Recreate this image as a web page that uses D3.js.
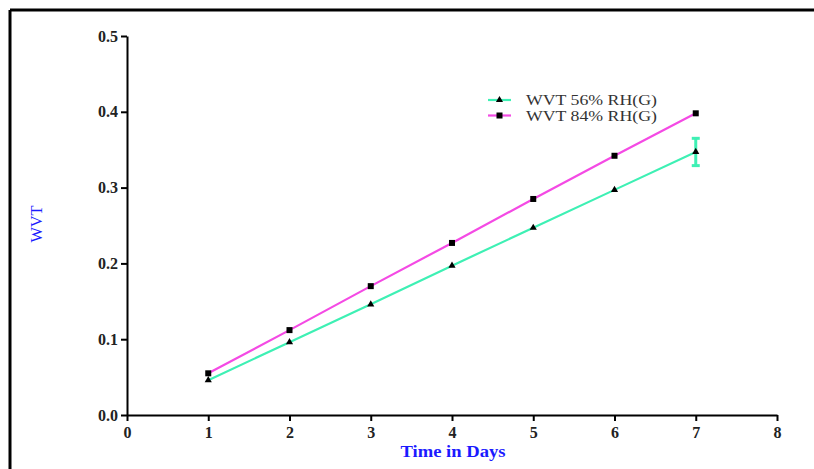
<!DOCTYPE html>
<html>
<head>
<meta charset="utf-8">
<script src="https://cdn.jsdelivr.net/npm/d3@7"></script>
<style>
  body { margin: 0; background: #fff; }
  svg { display: block; }
</style>
</head>
<body>
<svg id="chart"></svg>
<script>
const days = [1, 2, 3, 4, 5, 6, 7];
const wvt56 = [0.046, 0.096, 0.146, 0.197, 0.247, 0.297, 0.347];
const wvt84 = [0.055, 0.112, 0.170, 0.227, 0.285, 0.342, 0.398];
const err56 = [0, 0, 0, 0, 0, 0, 0.018];
const xTicks = [0, 1, 2, 3, 4, 5, 6, 7, 8];
const yTicks = [0.0, 0.1, 0.2, 0.3, 0.4, 0.5];
const seriesNames = ["WVT 56% RH(G)", "WVT 84% RH(G)"];

const width = 814, height = 469;
const margin = { top: 36, right: 36, bottom: 54, left: 127 };

const svg = d3.select("#chart").attr("width", width).attr("height", height);

// outer frame (top and left edges only)
svg.append("line").attr("x1", 10).attr("x2", width).attr("y1", 10).attr("y2", 10)
    .attr("stroke", "#000").attr("stroke-width", 3);
svg.append("line").attr("x1", 10).attr("x2", 10).attr("y1", 10).attr("y2", height)
    .attr("stroke", "#000").attr("stroke-width", 3);

const x = d3.scaleLinear().domain([0, 8]).range([margin.left, width - margin.right - 1]);
const y = d3.scaleLinear().domain([0, 0.5]).range([height - margin.bottom, margin.top]);

const font = "'Liberation Serif', 'Times New Roman', serif";

const xAxis = svg.append("g")
    .attr("transform", `translate(0,${y(0)})`)
    .call(d3.axisBottom(x).tickValues(xTicks).tickFormat(d3.format("d")).tickSize(6).tickSizeOuter(0));
const yAxis = svg.append("g")
    .attr("transform", `translate(${x(0)},0)`)
    .call(d3.axisLeft(y).tickValues(yTicks).tickFormat(d3.format(".1f")).tickSize(6).tickSizeOuter(0));

[xAxis, yAxis].forEach(g => {
  g.select(".domain").attr("stroke", "#000").attr("stroke-width", 2);
  g.selectAll(".tick line").attr("stroke", "#000").attr("stroke-width", 2);
  g.selectAll(".tick text").attr("font-family", font).attr("font-weight", "bold")
      .attr("font-size", 16).attr("fill", "#222");
});
xAxis.selectAll(".tick text").attr("y", 8).attr("dy", "0.95em");
yAxis.selectAll(".tick text").attr("x", -9);

const colors = ["#3ef0b4", "#f44ae4"];
const data = [
  days.map((d, i) => ({ x: d, y: wvt56[i], e: err56[i] })),
  days.map((d, i) => ({ x: d, y: wvt84[i], e: 0 }))
];

const line = d3.line().x(d => x(d.x)).y(d => y(d.y));

data.forEach((s, k) => {
  svg.append("path").datum(s)
      .attr("fill", "none").attr("stroke", colors[k]).attr("stroke-width", 2.2)
      .attr("d", line);
});

// error bars
const eb = svg.append("g").selectAll("g").data(data[0].filter(d => d.e > 0)).join("g");
eb.append("line").attr("x1", d => x(d.x)).attr("x2", d => x(d.x))
    .attr("y1", d => y(d.y - d.e)).attr("y2", d => y(d.y + d.e))
    .attr("stroke", colors[0]).attr("stroke-width", 3);
[1, -1].forEach(sgn => {
  eb.append("line").attr("x1", d => x(d.x) - 4).attr("x2", d => x(d.x) + 4)
      .attr("y1", d => y(d.y + sgn * d.e)).attr("y2", d => y(d.y + sgn * d.e))
      .attr("stroke", colors[0]).attr("stroke-width", 3);
});

const tri = d3.symbol().type(d3.symbolTriangle).size(22);
svg.append("g").selectAll("path").data(data[0]).join("path")
    .attr("transform", d => `translate(${x(d.x)},${y(d.y)})`)
    .attr("d", tri).attr("fill", "#000");
svg.append("g").selectAll("rect").data(data[1]).join("rect")
    .attr("x", d => x(d.x) - 3).attr("y", d => y(d.y) - 3)
    .attr("width", 6).attr("height", 6).attr("fill", "#000");

// legend
const legend = svg.append("g").attr("transform", "translate(488,100)");
seriesNames.forEach((name, k) => {
  const g = legend.append("g").attr("transform", `translate(0,${k * 15.5})`);
  g.append("line").attr("x1", 0).attr("x2", 23).attr("stroke", colors[k]).attr("stroke-width", 2.2);
  if (k === 0) g.append("path").attr("transform", "translate(11.5,0)").attr("d", tri).attr("fill", "#000");
  else g.append("rect").attr("x", 8.5).attr("y", -3).attr("width", 6).attr("height", 6).attr("fill", "#000");
  g.append("text").attr("x", 38).attr("y", 5).text(name)
      .attr("font-family", font).attr("font-size", 15).attr("fill", "#333")
      .attr("textLength", 131).attr("lengthAdjust", "spacingAndGlyphs");
});

// axis titles
svg.append("text").attr("x", 453).attr("y", 457).attr("text-anchor", "middle")
    .attr("font-family", font).attr("font-weight", "bold").attr("font-size", 17)
    .attr("fill", "#1a1aff").text("Time in Days")
    .attr("textLength", 105).attr("lengthAdjust", "spacingAndGlyphs");
svg.append("text").attr("transform", "translate(42,224) rotate(-90)").attr("text-anchor", "middle")
    .attr("font-family", font).attr("font-size", 16)
    .attr("fill", "#1a1aff").text("WVT")
    .attr("textLength", 37).attr("lengthAdjust", "spacingAndGlyphs");
</script>
</body>
</html>
